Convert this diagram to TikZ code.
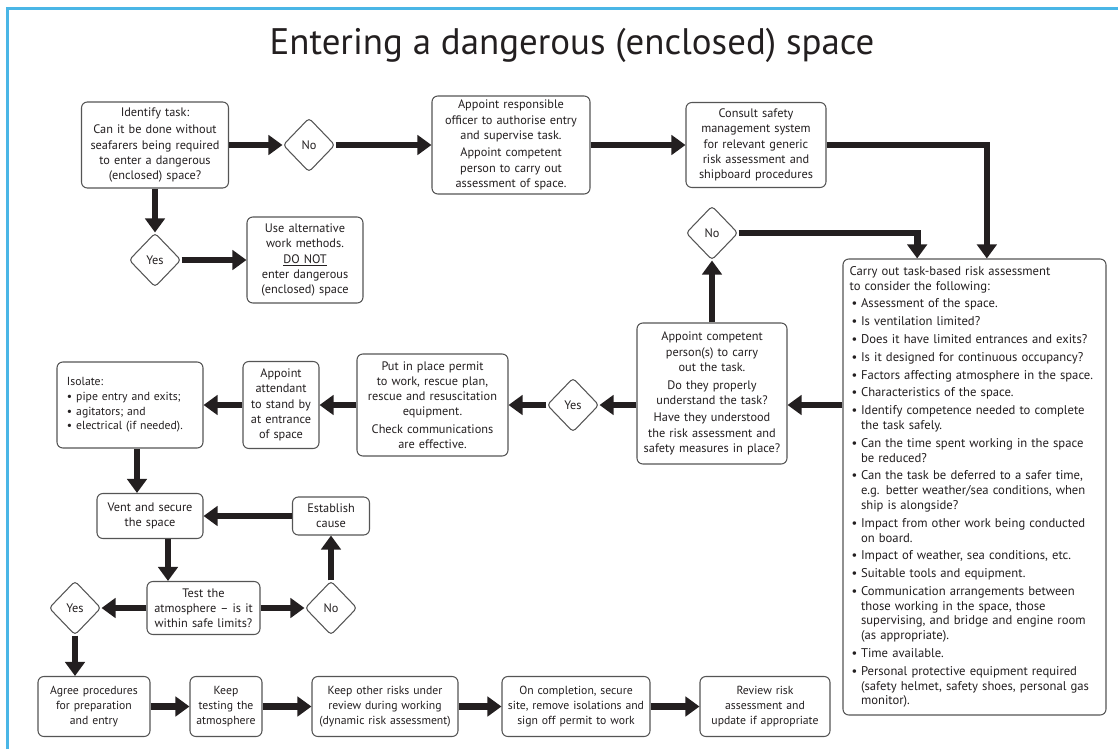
\documentclass[tikz,border=0pt]{standalone}
\usepackage{fontspec}
\setmainfont{PT Sans}
\usetikzlibrary{arrows.meta,shapes.geometric}

\definecolor{framec}{HTML}{4AB6E6}
\definecolor{edgec}{HTML}{555555}
\definecolor{arrowc}{HTML}{231F20}
\newenvironment{bul}{\begin{list}{\textbullet}{\setlength{\leftmargin}{0.9em}\setlength{\labelwidth}{0.6em}\setlength{\labelsep}{0.3em}\setlength{\itemsep}{2.6pt}\setlength{\parsep}{0pt}\setlength{\topsep}{2.6pt}\setlength{\partopsep}{0pt}}}{\end{list}}

\begin{document}
\begin{tikzpicture}[x=0.03cm, y=-0.03cm, font=\fontsize{10.5}{13}\selectfont, text=arrowc,
  box/.style={draw=edgec, line width=0.9pt, rounded corners=5pt, fill=white, align=center, inner xsep=0.1cm, inner ysep=2pt, text width=#1},
  box/.default=3cm,
  small/.style={font=\fontsize{10}{12.5}\selectfont},
  dia/.style={draw=edgec, line width=0.9pt, diamond, aspect=1, rounded corners=3pt, fill=white, inner sep=0pt, minimum width=1.56cm, minimum height=1.62cm},
  flow/.style={->, draw=arrowc, line width=0.2cm},
  >={Triangle[length=0.42cm, width=0.58cm]}]
\useasboundingbox (0,0) rectangle (1118,749);
\draw[framec, line width=0.09cm] (7,749) -- (7,8) -- (1118,8);
\node[font=\fontsize{31.5}{36}\selectfont] (title) at (572,45) {Entering a dangerous (enclosed) space};
% top row
\node[box=4.21cm, minimum height=2.58cm] (ident) at (155,145) {Identify task:\\[2pt] Can it be done without\\seafarers being required\\to enter a dangerous\\(enclosed) space?};
\node[dia] (no1) at (309,145) {No};
\node[box=4.54cm, minimum height=2.94cm] (resp) at (511,145) {Appoint responsible\\officer to authorise entry\\and supervise task.\\[2pt] Appoint competent\\person to carry out\\assessment of space.};
\node[box=4.0cm, minimum height=2.55cm] (consult) at (756,145) {Consult safety\\management system\\for relevant generic\\risk assessment and\\shipboard procedures};
\node[dia] (yes1) at (155,260) {Yes};
\node[box=3.28cm, minimum height=2.58cm] (alt) at (305,260) {Use alternative\\work methods.\\\underline{DO NOT}\\enter dangerous\\(enclosed) space};
% risk assessment
\node[box=7.49cm, minimum height=13.68cm, align=left, inner xsep=0.2cm] (main) at (974.5,487) {\fontsize{10.8}{12.6}\selectfont
Carry out task-based risk assessment\newline to consider the following:
\begin{bul}
\item Assessment of the space.
\item Is ventilation limited?
\item Does it have limited entrances and exits?
\item Is it designed for continuous occupancy?
\item Factors affecting atmosphere in the space.
\item Characteristics of the space.
\item Identify competence needed to complete\newline the task safely.
\item Can the time spent working in the space\newline be reduced?
\item Can the task be deferred to a safer time,\newline e.g. better weather/sea conditions, when\newline ship is alongside?
\item Impact from other work being conducted\newline on board.
\item Impact of weather, sea conditions, etc.
\item Suitable tools and equipment.
\item Communication arrangements between\newline those working in the space, those\newline supervising, and bridge and engine room\newline (as appropriate).
\item Time available.
\item Personal protective equipment required\newline (safety helmet, safety shoes, personal gas\newline monitor).
\end{bul}};
\node[dia] (no2) at (712,233) {No};
\node[box=4.3cm, minimum height=4.23cm] (comp) at (712,393.5) {Appoint competent\\person(s) to carry\\out the task.\\[2pt] Do they properly\\understand the task?\\[2pt] Have they understood\\the risk assessment and\\safety measures in place?};
% middle row
\node[dia] (yes2) at (573,405) {Yes};
\node[box=4.33cm, minimum height=3.06cm] (permit) at (432.5,405) {Put in place permit\\to work, rescue plan,\\rescue and resuscitation\\equipment.\\[2pt] Check communications\\are effective.};
\node[box=2.08cm, minimum height=2.61cm] (attend) at (281,405) {Appoint\\attendant\\to stand by\\at entrance\\of space};
\node[box=3.78cm, minimum height=2.58cm, align=left, inner xsep=0.3cm, small] (isolate) at (130,405) {Isolate:\\\textbullet\ pipe entry and exits;\\\textbullet\ agitators; and\\\textbullet\ electrical (if needed).};
% atmosphere loop
\node[box=2.98cm, minimum height=1.35cm] (vent) at (150,516) {Vent and secure\\the space};
\node[box=2.11cm, minimum height=1.14cm] (cause) at (331,516) {Establish\\cause};
\node[box=3.19cm, minimum height=1.59cm] (test) at (203.5,608) {Test the\\atmosphere -- is it\\within safe limits?};
\node[dia] (no3) at (331,608) {No};
\node[dia] (yes3) at (75,608) {Yes};
% bottom row
\node[box=3.16cm, minimum height=1.8cm, small] (agree) at (94,706.5) {Agree procedures\\for preparation\\and entry};
\node[box=1.96cm, minimum height=1.8cm, small] (keep) at (226,706.5) {Keep\\testing the\\atmosphere};
\node[box=4.18cm, minimum height=1.8cm, small] (other) at (385,706.5) {Keep other risks under\\review during working\\(dynamic risk assessment)};
\node[box=4.24cm, minimum height=1.8cm, small] (done) at (576,706.5) {On completion, secure\\site, remove isolations and\\sign off permit to work};
\node[box=3.7cm, minimum height=1.8cm, small] (review) at (765,706.5) {Review risk\\assessment and\\update if appropriate};
% connectors
\draw[flow] (ident.east) -- (no1.west);
\draw[flow] (no1.east) -- (resp.west);
\draw[flow] (resp.east) -- (consult.west);
\draw[flow] (consult.east) -| ([xshift=0.37cm]main.north);
\draw[flow] (ident.south) -- (yes1.north);
\draw[flow] (yes1.east) -- (alt.west);
\draw[flow] (no2.east) -| ([xshift=-1.72cm]main.north);
\draw[flow] (comp.north) -- (no2.south);
\draw[flow] (main.west |- yes2) -- (comp.east |- yes2);
\draw[flow] (comp.west |- yes2) -- (yes2.east);
\draw[flow] (yes2.west) -- (permit.east);
\draw[flow] (permit.west) -- (attend.east);
\draw[flow] (attend.west) -- (isolate.east);
\draw[flow] ([xshift=0.21cm]isolate.south) -- ([xshift=0.21cm]isolate.south |- vent.north);
\draw[flow] ([xshift=0.54cm]vent.south) -- ([xshift=0.54cm]vent.south |- test.north);
\draw[flow] (cause.west) -- (vent.east);
\draw[flow] (test.east) -- (no3.west);
\draw[flow] (no3.north) -- (cause.south);
\draw[flow] (test.west) -- (yes3.east);
\draw[flow] (yes3.south) -- (yes3.south |- agree.north);
\foreach \a/\b in {agree/keep, keep/other, other/done, done/review} \draw[flow] (\a.east) -- (\b.west);
\end{tikzpicture}
\end{document}
